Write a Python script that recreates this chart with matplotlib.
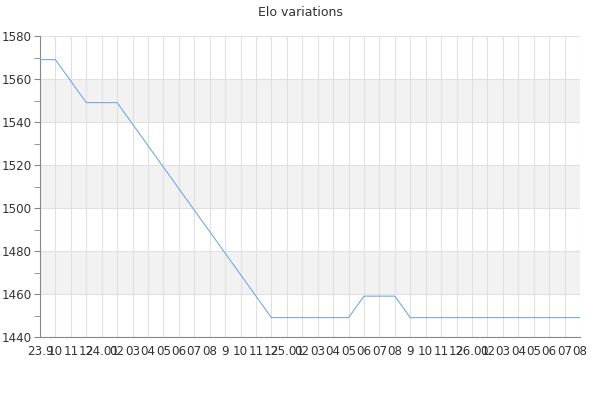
import matplotlib
matplotlib.use("Agg")
import matplotlib.pyplot as plt
from matplotlib.ticker import MultipleLocator

# monthly tick labels, Sep 2023 .. Aug 2026
months = ["23.9", "10", "11", "12",
          "24.01", "02", "03", "04", "05", "06", "07", "08", "9", "10", "11", "12",
          "25.01", "02", "03", "04", "05", "06", "07", "08", "9", "10", "11", "12",
          "26.01", "02", "03", "04", "05", "06", "07", "08"]

# elo at each breakpoint (month index)
pts_x = [0, 1, 3, 5, 15, 20, 21, 23, 24, 35]
pts_elo = [1569, 1569, 1549, 1549, 1449, 1449, 1459, 1459, 1449, 1449]

fig = plt.figure(figsize=(6, 4), dpi=100)
ax = fig.add_axes([40/600, 1 - 337/400, 540/600, 301/400])

# alternating bands
for lo in range(1460, 1580, 40):
    ax.axhspan(lo, lo + 20, color="#f2f2f2", zorder=0, lw=0)

ax.plot(pts_x, pts_elo, color="#6a9be8", lw=0.7, zorder=3)

ax.set_xlim(0, len(months) - 1)
ax.set_ylim(1440, 1580)
ax.set_xticks(range(len(months)))
ax.set_xticklabels(months)
ax.yaxis.set_major_locator(MultipleLocator(20))
ax.yaxis.set_minor_locator(MultipleLocator(10))

ax.grid(True, which="major", color="#e0e0e0", lw=0.8, zorder=1)
ax.set_axisbelow(True)

for s in ["top", "right"]:
    ax.spines[s].set_visible(False)
for s in ["left", "bottom"]:
    ax.spines[s].set_color("#888888")
    ax.spines[s].set_linewidth(0.8)

ax.tick_params(axis="x", length=0, labelsize=8.6, colors="#333333", pad=6)
ax.tick_params(axis="y", which="major", length=4, pad=2, color="#888888", labelsize=8.6, labelcolor="#333333")
ax.tick_params(axis="y", which="minor", length=4, color="#888888")

fig.text(0.5, 1 - 12/400, "Elo variations", ha="center", va="center", fontsize=9, color="#333333")

fig.savefig("out.png")
